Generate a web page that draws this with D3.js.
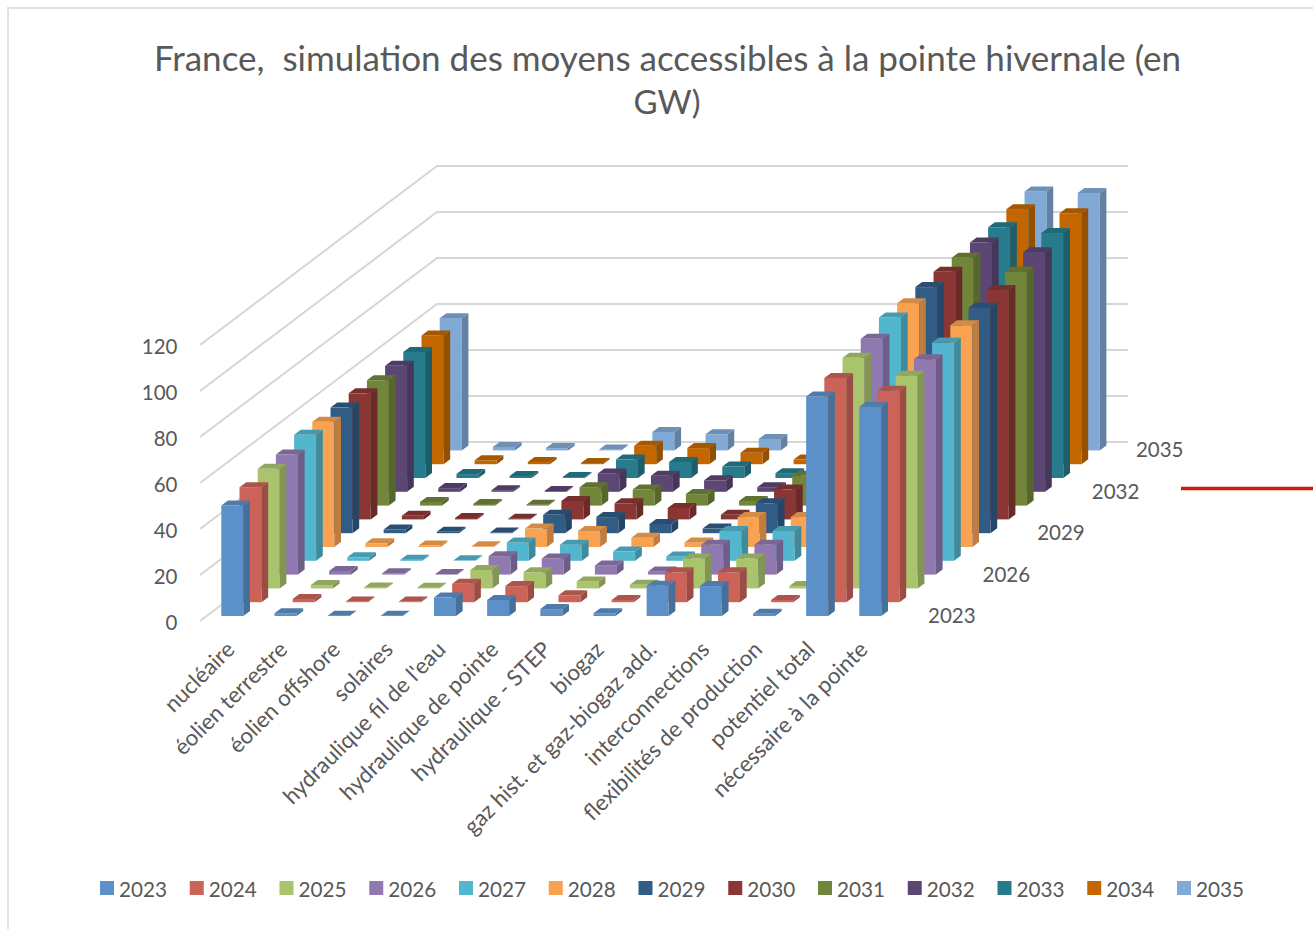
<!DOCTYPE html>
<html>
<head>
<meta charset="utf-8">
<script src="https://cdn.jsdelivr.net/npm/d3@7"></script>
<style>
  html, body { margin: 0; background: #fff; }
  svg { display: block; }
  text { font-family: Lato, "Open Sans", sans-serif; fill: #595959; }
</style>
</head>
<body>
<script>
/* Data
   ========================================================================== */
var categories = ["nucléaire", "éolien terrestre", "éolien offshore", "solaires",
    "hydraulique fil de l'eau", "hydraulique de pointe", "hydraulique - STEP", "biogaz",
    "gaz hist. et gaz-biogaz add.", "interconnections", "flexibilités de production",
    "potentiel total", "nécessaire à la pointe"];
var years = ["2023", "2024", "2025", "2026", "2027", "2028", "2029", "2030", "2031", "2032", "2033", "2034", "2035"];
var depthLabels = ["2023", "2026", "2029", "2032", "2035"];
var valueTicks = [0, 20, 40, 60, 80, 100, 120];
var colors = ["#5b91c8", "#cb6359", "#aac46e", "#9079b0", "#52b6cf", "#f9a352", "#315c86",
    "#8a3734", "#71853b", "#5c4774", "#267b8c", "#c26700", "#81a9d5"];

var nucleaire = [48, 50, 52, 52.2, 54.8, 54.5, 54.6, 54.8, 54.5, 54.8, 54.8, 56, 57.5];
var eolienTerrestre = [1.2, 1.4, 1.45, 1.6, 1.5, 1.6, 1.6, 1.6, 1.6, 1.6, 1.7, 1.7, 1.5];
var eolienOffshore = [0.15, 0.3, 0.4, 0.6, 0.5, 0.6, 0.6, 0.6, 0.7, 0.7, 0.9, 1, 1];
var solaires = [0.15, 0.3, 0.3, 0.3, 0.2, 0.3, 0.3, 0.3, 0.4, 0.4, 0.4, 0.5, 0.4];
var filDeLeau = [8, 8, 8, 8, 8, 8, 8, 8, 8, 8, 8, 8, 8];
var hydroPointe = [7, 7, 7, 7, 7, 7, 7, 7, 7, 7, 7, 7, 7];
var step = [3, 3, 3, 4, 4, 4, 4, 5, 5, 5, 5, 5, 5];
var biogaz = [1.2, 1, 1.6, 1.4, 1.9, 2, 2, 2, 2, 2, 2.1, 2, 2];
var gaz = [13.2, 13, 13, 13, 13, 13, 13, 13, 13, 13, 13, 13, 13];
var interconnections = [13, 13, 13, 13, 13, 13, 13, 13, 13, 13, 13, 13, 13];
var flexibilites = [1, 1, 1, 1, 1, 1, 1, 1, 1, 1, 1, 1, 1];
var potentielTotal = [95.4, 97.5, 100.3, 102.5, 105.8, 106, 107, 107.7, 107.8, 108.4, 109, 110.9, 112.6];
var necessaire = [91, 91.9, 92.5, 93.6, 94.9, 96.4, 98, 99.7, 101.7, 104.2, 106.5, 109.1, 111.9];

var seriesByCategory = [nucleaire, eolienTerrestre, eolienOffshore, solaires, filDeLeau, hydroPointe,
    step, biogaz, gaz, interconnections, flexibilites, potentielTotal, necessaire];

/* Layout
   ========================================================================== */
var width = 1313, height = 929;
var barWidth = 22, sideDx = 6.7, sideDy = 5;

// categories run along the front, years go away from the viewer up and to the right
var x = d3.scalePoint().domain(categories).range([221.3, 859.3]);
var labelX = d3.scalePoint().domain(categories).range([236, 869]);
var depthX = d3.scalePoint().domain(years).range([0, 218.4]);
var floorY = d3.scalePoint().domain(years).range([616, 450.4]);
var h = d3.scaleLinear().domain([0, 120]).range([0, 276]);

var svg = d3.select("body").append("svg")
    .attr("width", width)
    .attr("height", height);

// chart frame
svg.append("path")
    .attr("d", "M8,929V8H1313")
    .attr("fill", "none")
    .attr("stroke", "#e2e2e2")
    .attr("stroke-width", 2);

/* Title
   ========================================================================== */
var title = svg.append("text")
    .attr("text-anchor", "middle")
    .style("font-size", "35px");
title.append("tspan").attr("x", 667.5).attr("y", 71)
    .attr("xml:space", "preserve")
    .text("France,  simulation des moyens accessibles à la pointe hivernale (en");
title.append("tspan").attr("x", 667).attr("y", 114).style("font-size", "33px").text("GW)");

/* Walls: grid lines run along the left wall then the back wall
   ========================================================================== */
var wallFrontX = 200, wallBackX = 437, wallEndX = 1128, wallFrontY = 621, wallBackY = 442;

svg.append("g").selectAll("path")
    .data(valueTicks)
    .enter().append("path")
    .attr("fill", "none")
    .attr("stroke", "#d6d6d6")
    .attr("stroke-width", 2)
    .attr("d", function(d) {
        return d3.line()([
            [wallFrontX, wallFrontY - h(d)],
            [wallBackX, wallBackY - h(d)],
            [wallEndX, wallBackY - h(d)]
        ]);
    });

svg.append("g").selectAll("text")
    .data(valueTicks)
    .enter().append("text")
    .attr("x", 177.5)
    .attr("y", function(d) { return wallFrontY - h(d) + 8.5; })
    .attr("text-anchor", "end")
    .style("font-size", "20.5px")
    .text(function(d) { return d; });

/* Bars, back row first so nearer years cover the far ones
   ========================================================================== */
var cells = [];
years.slice().reverse().forEach(function(year) {
    categories.forEach(function(cat, c) {
        cells.push({ cat: cat, year: year, value: seriesByCategory[c][years.indexOf(year)] });
    });
});

var bars = svg.append("g").selectAll("g")
    .data(cells)
    .enter().append("g")
    .attr("transform", function(d) {
        return "translate(" + (x(d.cat) + depthX(d.year)) + "," + floorY(d.year) + ")";
    });

function color(d) { return d3.color(colors[years.indexOf(d.year)]); }

// front face
bars.append("rect")
    .attr("x", 0)
    .attr("y", function(d) { return -h(d.value); })
    .attr("width", barWidth)
    .attr("height", function(d) { return h(d.value); })
    .attr("fill", function(d) { return color(d); });

// right side
bars.append("path")
    .attr("fill", function(d) { return color(d).darker(0.75); })
    .attr("d", function(d) {
        var t = -h(d.value);
        return d3.line()([[barWidth, 0], [barWidth + sideDx, -sideDy], [barWidth + sideDx, t - sideDy], [barWidth, t]]) + "Z";
    });

// top
bars.append("path")
    .attr("fill", function(d) { return color(d).darker(0.45); })
    .attr("d", function(d) {
        var t = -h(d.value);
        return d3.line()([[0, t], [sideDx, t - sideDy], [barWidth + sideDx, t - sideDy], [barWidth, t]]) + "Z";
    });

/* Axis labels
   ========================================================================== */
svg.append("g").selectAll("text")
    .data(categories)
    .enter().append("text")
    .attr("text-anchor", "end")
    .attr("transform", function(d) {
        return "translate(" + labelX(d) + ",651) rotate(-45)";
    })
    .style("font-size", "22.3px")
    .text(function(d) { return d; });

svg.append("g").selectAll("text")
    .data(depthLabels)
    .enter().append("text")
    .attr("x", function(d) {
        // the last label sits closer in than the regular spacing
        return 928 + depthX(d) - (d === "2035" ? 10.5 : 0);
    })
    .attr("y", function(d) { return floorY(d) + 7; })
    .style("font-size", "20.5px")
    .text(function(d) { return d; });

/* Legend
   ========================================================================== */
var legendX = d3.scalePoint().domain(years).range([100, 1177]);

var legend = svg.append("g").selectAll("g")
    .data(years)
    .enter().append("g")
    .attr("transform", function(d) { return "translate(" + legendX(d) + ",881)"; });

legend.append("rect")
    .attr("width", 14)
    .attr("height", 14)
    .attr("fill", function(d, i) { return colors[i]; });

legend.append("text")
    .attr("x", 19)
    .attr("y", 16)
    .style("font-size", "20.7px")
    .text(function(d) { return d; });

/* Red stroke on the right edge
   ========================================================================== */
svg.append("line")
    .attr("x1", 1181).attr("x2", 1313)
    .attr("y1", 488.5).attr("y2", 488.5)
    .attr("stroke", "#d01c00")
    .attr("stroke-width", 3.5);
</script>
</body>
</html>
